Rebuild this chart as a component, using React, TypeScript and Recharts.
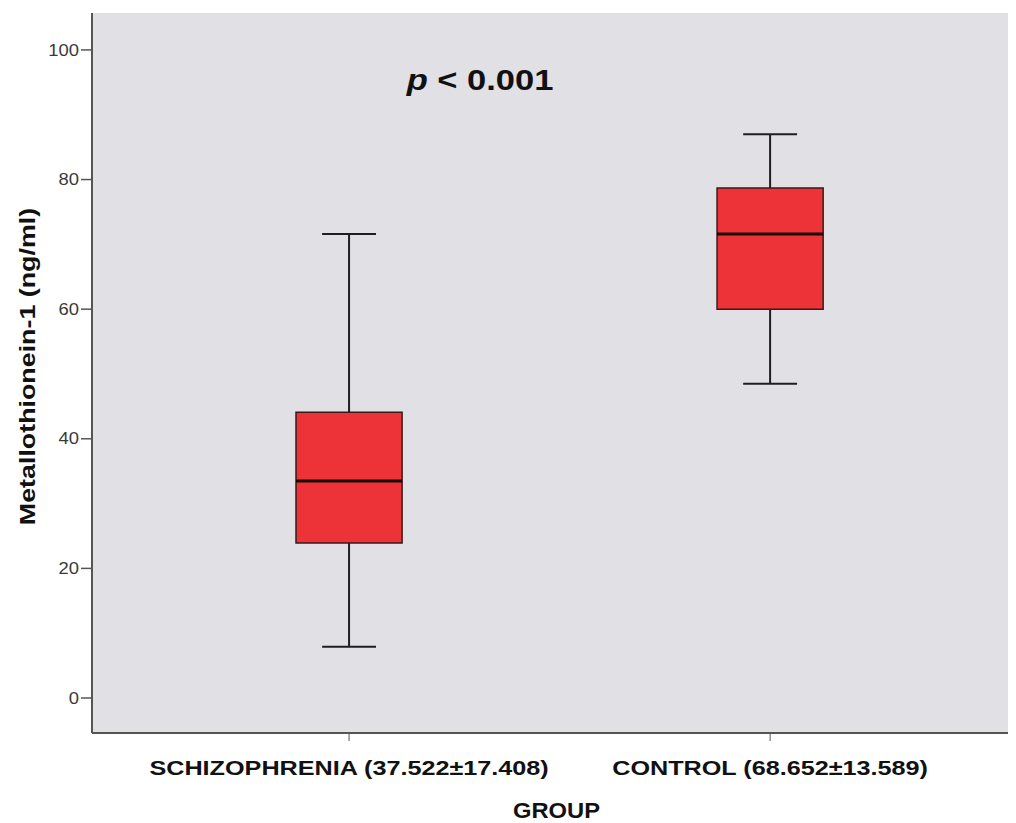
import * as React from "react"
import {
  ComposedChart,
  XAxis,
  YAxis,
  CartesianGrid,
  Scatter,
  ReferenceArea,
  ReferenceLine,
  ReferenceDot,
  Label,
} from "recharts"

// values
const groups = ["SCHIZOPHRENIA (37.522±17.408)", "CONTROL (68.652±13.589)"]
const groupIndex = [0, 1]
const whiskerLow = [7.9, 48.5]
const q1 = [23.9, 60.0]
const median = [33.5, 71.6]
const q3 = [44.1, 78.7]
const whiskerHigh = [71.6, 87.0]
const yTicks = [0, 20, 40, 60, 80, 100]

const FONT = "'Liberation Sans', Arial, Helvetica, sans-serif"
const STRETCH = 1.19 // the source image text is a bit wider than Arial
const BOX_HALF = 0.126
const CAP_HALF = 0.064
const LINE = "#1f1f1f"

const points = groupIndex.map((i) => ({ x: i, y: median[i] }))

const PValue = (props: any) => {
  const { viewBox } = props
  return (
    <g transform={`translate(${viewBox.x},${viewBox.y}) scale(${STRETCH},1)`}>
      <text
        x={0}
        y={0}
        textAnchor="middle"
        dominantBaseline="central"
        fontFamily={FONT}
        fontWeight="bold"
        fontSize={29}
        fill="#111"
      >
        <tspan fontStyle="italic">p</tspan>
        <tspan> &lt; 0.001</tspan>
      </text>
    </g>
  )
}

const XTick = (props: any) => {
  const { x, y, payload } = props
  return (
    <g transform={`translate(${x},${y}) scale(1.2,1)`}>
      <text
        x={0}
        y={0}
        textAnchor="middle"
        dominantBaseline="central"
        fontFamily={FONT}
        fontWeight="bold"
        fontSize={21}
        fill="#111"
      >
        {groups[payload.value]}
      </text>
    </g>
  )
}

const YTick = (props: any) => {
  const { x, y, payload } = props
  return (
    <g transform={`translate(${x},${y}) scale(1.15,1)`}>
      <text
        x={0}
        y={0}
        textAnchor="end"
        dominantBaseline="central"
        fontFamily={FONT}
        fontSize={16}
        fill="#3a3a3a"
      >
        {payload.value}
      </text>
    </g>
  )
}

const YTitle = (props: any) => {
  const { viewBox } = props
  const cx = viewBox.x + 19
  const cy = viewBox.y + viewBox.height / 2 - 6.5
  return (
    <g transform={`translate(${cx},${cy}) rotate(-90) scale(1.22,1)`}>
      <text
        x={0}
        y={0}
        textAnchor="middle"
        dominantBaseline="central"
        fontFamily={FONT}
        fontWeight="bold"
        fontSize={22}
        fill="#111"
      >
        Metallothionein-1 (ng/ml)
      </text>
    </g>
  )
}

const XTitle = (props: any) => {
  const { viewBox } = props
  const cx = viewBox.x + viewBox.width / 2 + 2.5
  const cy = viewBox.y + 77
  return (
    <g transform={`translate(${cx},${cy}) scale(1.08,1)`}>
      <text
        x={0}
        y={0}
        textAnchor="middle"
        dominantBaseline="central"
        fontFamily={FONT}
        fontWeight="bold"
        fontSize={22}
        fill="#111"
      >
        GROUP
      </text>
    </g>
  )
}

export default function App() {
  return (
    <div style={{ width: 1008, height: 815 }}>
      <style>{"body{overflow:hidden}"}</style>
      <ComposedChart
        width={1008}
        height={815}
        margin={{ top: 5, right: 0, bottom: 0, left: 0 }}
      >
        <CartesianGrid fill="#e1e0e5" horizontal={false} vertical={false} />
        <XAxis
          type="number"
          dataKey="x"
          domain={[-0.6105, 1.584]}
          allowDataOverflow
          ticks={groupIndex}
          tick={<XTick />}
          tickSize={8}
          tickMargin={27}
          height={90}
          axisLine={{ stroke: "#555", strokeWidth: 2 }}
          tickLine={{ stroke: "#555", strokeWidth: 1 }}
        >
          <Label content={<XTitle />} />
        </XAxis>
        <XAxis
          xAxisId="top"
          orientation="top"
          type="number"
          domain={[-0.6105, 1.584]}
          allowDataOverflow
          tick={false}
          tickLine={false}
          height={0}
          axisLine={{ stroke: "#555", strokeWidth: 2 }}
        />
        <YAxis
          type="number"
          domain={[-5.4, 105.7]}
          allowDataOverflow
          ticks={yTicks}
          width={84}
          tickSize={11}
          tickMargin={2}
          axisLine={{ stroke: "#555", strokeWidth: 2 }}
          tickLine={{ stroke: "#555", strokeWidth: 1.5 }}
          tick={<YTick />}
        >
          <Label content={<YTitle />} />
        </YAxis>

        {groupIndex.map((i) => (
          <ReferenceLine
            key={`wl-${i}`}
            segment={[{ x: i, y: whiskerLow[i] }, { x: i, y: q1[i] }]}
            stroke={LINE}
            strokeWidth={2}
          />
        ))}
        {groupIndex.map((i) => (
          <ReferenceLine
            key={`wh-${i}`}
            segment={[{ x: i, y: q3[i] }, { x: i, y: whiskerHigh[i] }]}
            stroke={LINE}
            strokeWidth={2}
          />
        ))}
        {groupIndex.map((i) => (
          <ReferenceLine
            key={`cl-${i}`}
            segment={[{ x: i - CAP_HALF, y: whiskerLow[i] }, { x: i + CAP_HALF, y: whiskerLow[i] }]}
            stroke={LINE}
            strokeWidth={2}
          />
        ))}
        {groupIndex.map((i) => (
          <ReferenceLine
            key={`ch-${i}`}
            segment={[{ x: i - CAP_HALF, y: whiskerHigh[i] }, { x: i + CAP_HALF, y: whiskerHigh[i] }]}
            stroke={LINE}
            strokeWidth={2}
          />
        ))}
        {groupIndex.map((i) => (
          <ReferenceArea
            key={`box-${i}`}
            x1={i - BOX_HALF}
            x2={i + BOX_HALF}
            y1={q1[i]}
            y2={q3[i]}
            fill="#ee3338"
            fillOpacity={1}
            stroke="#3a1a1a"
            strokeWidth={1.5}
          />
        ))}
        {groupIndex.map((i) => (
          <ReferenceLine
            key={`med-${i}`}
            segment={[{ x: i - BOX_HALF, y: median[i] }, { x: i + BOX_HALF, y: median[i] }]}
            stroke="#1a0505"
            strokeWidth={3}
          />
        ))}

        <Scatter
          data={points}
          dataKey="y"
          isAnimationActive={false}
          shape={() => <g />}
        />

        <ReferenceDot x={0.311} y={95.4} r={0} fill="none" stroke="none" label={<PValue />} />
      </ComposedChart>
    </div>
  )
}
